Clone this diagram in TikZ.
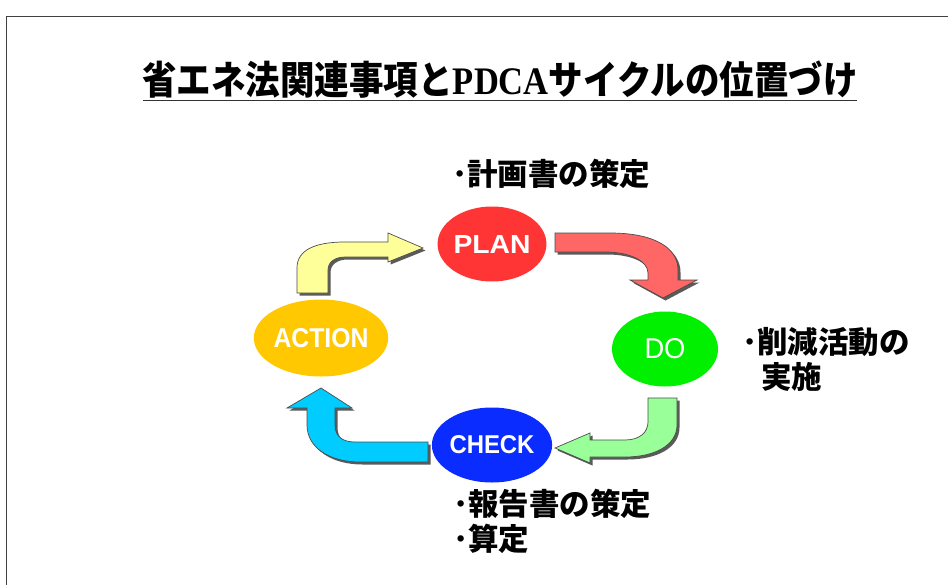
\documentclass[tikz,border=0pt]{standalone}
\usepackage{fontspec}
\setmainfont{Liberation Sans}
\newfontfamily\jp{Noto Sans CJK JP}
\newfontfamily\serifb{Liberation Serif}
\usetikzlibrary{shapes.geometric}
\definecolor{planred}{HTML}{FF3535}
\definecolor{dogreen}{HTML}{00F000}
\definecolor{checkblue}{HTML}{0A2CFF}
\definecolor{actyellow}{HTML}{FFC800}
\definecolor{arrred}{HTML}{FF6666}
\definecolor{arrgreen}{HTML}{99FF99}
\definecolor{arrcyan}{HTML}{00CCFF}
\definecolor{arryellow}{HTML}{FFFF99}
\definecolor{shadowc}{HTML}{5A5A5A}
\tikzset{
  phase/.style={ellipse, inner sep=0pt, minimum width=106pt, minimum height=75pt, text=white, font=\fontsize{25}{25}\selectfont},
  lab/.style={inner sep=0pt, anchor=base west, align=left, font=\jp\bfseries\fontsize{30.5}{35}\selectfont},
  frameline/.style={draw=black!75, line width=1.5pt},
  arrowline/.style={draw=black!70, line width=0.7pt}
}
\newcommand{\blockarrow}[2]{%
  \fill[shadowc, shift={(2.5,2.5)}] #2;
  \filldraw[fill=#1, arrowline] #2;
}
\begin{document}
\begin{tikzpicture}[x=1pt,y=-1pt]
\useasboundingbox (0,0) rectangle (948,584);
\begin{scope}
  \clip (0,0) rectangle (948,584);
  \fill[white] (0,0) rectangle (948,584);
  \draw[frameline] (6.5,16.5) rectangle (980,620);
\end{scope}

% title
\node[inner sep=0pt] (title) at (500,80) {\scalebox{0.885}[1]{\jp\bfseries\fontsize{39}{39}\selectfont 省エネ法関連事項と{\serifb\bfseries PDCA}サイクルの位置づけ}};
\coordinate (ulA) at (143,100.5);
\coordinate (ulB) at (857,100.5);
\draw[black!80, line width=1.8pt] (ulA) -- (ulB);

% block arrows
\blockarrow{arrred}{(555,233) -- (610,233) .. controls (655,233) and (678,248) .. (678,270) -- (678,280) -- (697,280) -- (663,298) -- (630,280) -- (648,280) -- (648,273) .. controls (648,261) and (630,252) .. (605,252) -- (555,252) -- cycle}
\blockarrow{arrgreen}{(648,398) -- (677,398) -- (677,425) .. controls (677,445) and (655,457) .. (625,457) -- (590,457) -- (590,463) -- (555,448) -- (590,433) -- (590,440) -- (625,440) .. controls (640,440) and (648,432) .. (648,422) -- cycle}
\blockarrow{arrcyan}{(428,442) -- (355,442) .. controls (342,442) and (335,436) .. (335,425) -- (335,408) -- (352,408) -- (321,388) -- (287,408) -- (307,408) -- (307,425) .. controls (307,448) and (330,462) .. (360,462) -- (428,462) -- cycle}
\blockarrow{arryellow}{(297,293) -- (297,268) .. controls (297,250) and (315,242) .. (345,242) -- (388,242) -- (388,233) -- (423,248) -- (388,262) -- (388,257) -- (345,257) .. controls (335,257) and (328,262) .. (328,270) -- (328,293) -- cycle}

% phases
\node[phase, fill=planred] (plan) at (492,244) {\resizebox{77pt}{18pt}{\bfseries PLAN}};
\node[phase, fill=dogreen] (do) at (665,349) {\resizebox{41pt}{20pt}{DO}};
\node[phase, fill=checkblue, minimum width=109pt] (check) at (492,445) {\resizebox{85pt}{18pt}{\bfseries CHECK}};
\node[phase, fill=actyellow, minimum width=107pt, minimum height=77pt] (action) at (321,338) {\resizebox{95pt}{19pt}{\bfseries ACTION}};

% labels
\node[lab] (planlab) at (452,185.5) {･計画書の策定};
\node[lab] (dolab) at (742,388) {･削減活動の\\\hspace*{19pt}実施};
\node[lab] (checklab) at (453,550.5) {･報告書の策定\\･算定};
\end{tikzpicture}
\end{document}
